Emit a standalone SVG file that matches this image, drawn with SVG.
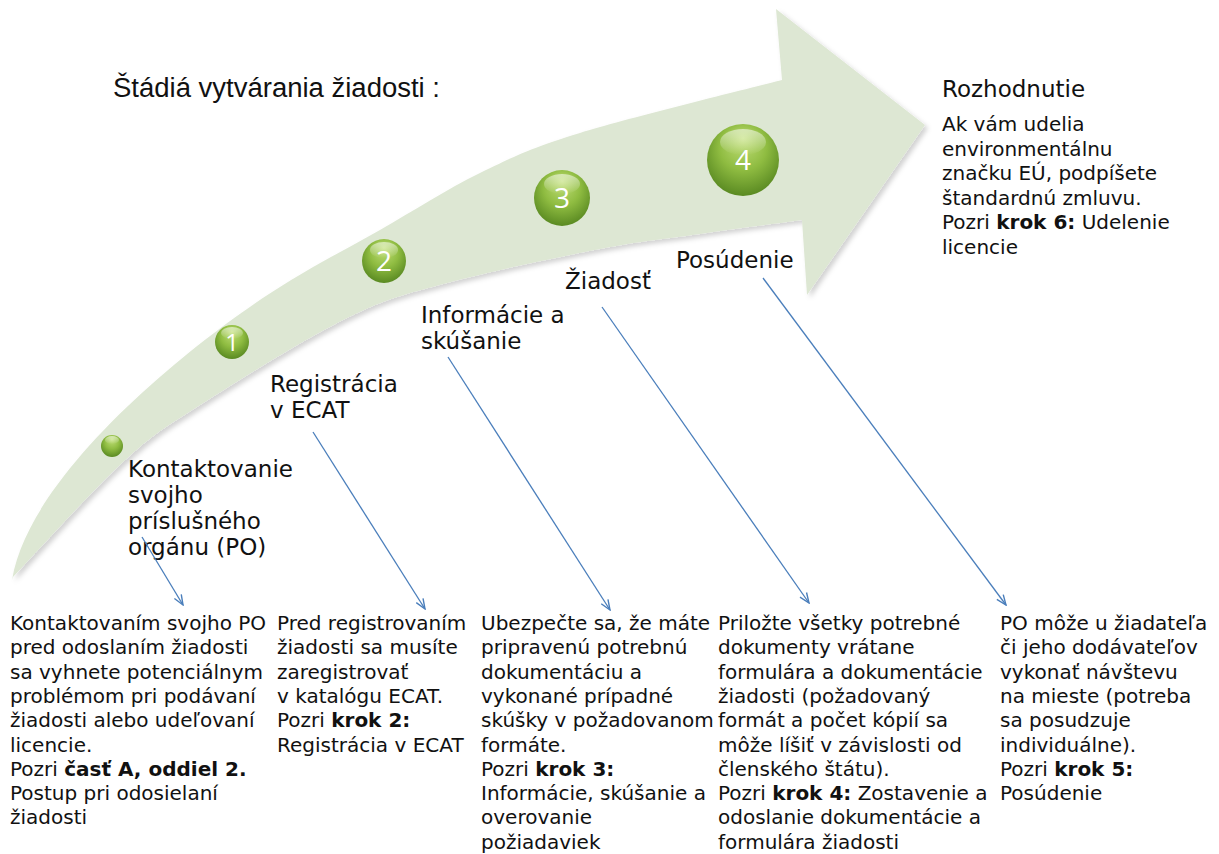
<svg xmlns="http://www.w3.org/2000/svg" width="1219" height="854" viewBox="0 0 1219 854">
<style>
.t{font-family:"DejaVu Sans","Liberation Sans",sans-serif;font-size:20px;fill:#111}
.l{font-family:"DejaVu Sans","Liberation Sans",sans-serif;font-size:23px;fill:#111}
.b{font-weight:bold}
.n{font-family:"Open Sans","Liberation Sans",sans-serif;fill:#fff;text-anchor:middle}
.c{stroke:#4a7ebb;stroke-width:1.3;fill:none}
</style>
<defs>
<radialGradient id="ball" cx="50%" cy="40%" r="60%" fx="50%" fy="20%">
<stop offset="0" stop-color="#c2e07a"/>
<stop offset="0.55" stop-color="#8fbc41"/>
<stop offset="1" stop-color="#5a8a22"/>
</radialGradient>
<linearGradient id="gloss" x1="0" y1="0" x2="0" y2="1">
<stop offset="0" stop-color="#fff" stop-opacity="0.55"/>
<stop offset="1" stop-color="#fff" stop-opacity="0"/>
</linearGradient>
<filter id="sh" x="-10%" y="-10%" width="130%" height="130%">
<feDropShadow dx="3" dy="3" stdDeviation="2.5" flood-color="#000" flood-opacity="0.18"/>
</filter>
<marker id="ah" viewBox="0 0 12 10" refX="11" refY="5" markerWidth="12" markerHeight="10" markerUnits="userSpaceOnUse" orient="auto">
<path d="M1,1 L11,5 L1,9" stroke="#4a7ebb" stroke-width="1.4" fill="none"/>
</marker>
</defs>

<g id="arrow">
<path filter="url(#sh)" fill="#dde7d3" d="M12,580 C30,470 200,337 280,287 C319.5,262 346.7,249 380,230 C413.3,211 446.7,189.2 480,173 C513.3,156.8 529.7,148.5 580,133 C630.3,117.5 748.3,88.8 782,80 L776,9 L925,125 L807,295 L802,220 C785,222.3 733.7,229.2 700,234 C666.3,238.8 642.2,240.8 600,249 C557.8,257.2 489.2,271.5 447,283 C404.8,294.5 388.2,297.7 347,318 C305.8,338.3 237.3,381 200,405 C162.7,429 154.2,433.3 123,462 C91.8,490.7 31.3,557.8 13,577 Z"/>
</g>

<text class="t" x="113" y="97" style="font-family:'Liberation Sans',sans-serif;font-size:27px" textLength="327" lengthAdjust="spacingAndGlyphs">Štádiá vytvárania žiadosti :</text>

<g id="ball0">
<circle cx="112" cy="446" r="11" fill="url(#ball)"/>
<ellipse cx="112" cy="440" rx="7" ry="4" fill="url(#gloss)"/>
</g>
<g id="ball1">
<circle cx="232" cy="342" r="17" fill="url(#ball)"/>
<ellipse cx="232" cy="333" rx="11" ry="6" fill="url(#gloss)"/>
<text class="n" x="232" y="351" font-size="24">1</text>
</g>
<g id="ball2">
<circle cx="384" cy="261" r="22" fill="url(#ball)"/>
<ellipse cx="384" cy="250" rx="14" ry="8" fill="url(#gloss)"/>
<text class="n" x="384" y="271" font-size="28">2</text>
</g>
<g id="ball3">
<circle cx="562" cy="198" r="28" fill="url(#ball)"/>
<ellipse cx="562" cy="184" rx="18" ry="10" fill="url(#gloss)"/>
<text class="n" x="562" y="208" font-size="28">3</text>
</g>
<g id="ball4">
<circle cx="743" cy="160" r="36" fill="url(#ball)"/>
<ellipse cx="743" cy="142" rx="23" ry="13" fill="url(#gloss)"/>
<text class="n" x="743" y="170" font-size="28">4</text>
</g>

<g id="label1">
<text class="l" x="128" y="477">Kontaktovanie</text>
<text class="l" x="128" y="503">svojho</text>
<text class="l" x="128" y="529">príslušného</text>
<text class="l" x="128" y="555">orgánu (PO)</text>
</g>
<g id="label2">
<text class="l" x="270" y="392">Registrácia</text>
<text class="l" x="270" y="418">v ECAT</text>
</g>
<g id="label3">
<text class="l" x="421" y="323">Informácie a</text>
<text class="l" x="421" y="349">skúšanie</text>
</g>
<g id="label4">
<text class="l" x="565" y="289">Žiadosť</text>
</g>
<g id="label5">
<text class="l" x="676" y="268">Posúdenie</text>
</g>
<g id="label6">
<text class="l" x="942" y="97">Rozhodnutie</text>
<text class="t" x="942" y="131">Ak vám udelia</text>
<text class="t" x="942" y="155.5">environmentálnu</text>
<text class="t" x="942" y="180">značku EÚ, podpíšete</text>
<text class="t" x="942" y="204.5">štandardnú zmluvu.</text>
<text class="t" x="942" y="229">Pozri <tspan class="b">krok 6:</tspan> Udelenie</text>
<text class="t" x="942" y="253.5">licencie</text>
</g>

<g id="connectors">
<line class="c" x1="142" y1="537" x2="183" y2="605" marker-end="url(#ah)"/>
<line class="c" x1="313" y1="432" x2="425" y2="609" marker-end="url(#ah)"/>
<line class="c" x1="448" y1="357" x2="610" y2="610" marker-end="url(#ah)"/>
<line class="c" x1="602" y1="307" x2="809" y2="603" marker-end="url(#ah)"/>
<line class="c" x1="763" y1="278" x2="1006" y2="605" marker-end="url(#ah)"/>
</g>

<g id="desc1">
<text class="t" x="10" y="630">Kontaktovaním svojho PO</text>
<text class="t" x="10" y="654.3">pred odoslaním žiadosti</text>
<text class="t" x="10" y="678.6">sa vyhnete potenciálnym</text>
<text class="t" x="10" y="702.9">problémom pri podávaní</text>
<text class="t" x="10" y="727.2">žiadosti alebo udeľovaní</text>
<text class="t" x="10" y="751.5">licencie.</text>
<text class="t" x="10" y="775.8">Pozri <tspan class="b">časť A, oddiel 2.</tspan></text>
<text class="t" x="10" y="800.1">Postup pri odosielaní</text>
<text class="t" x="10" y="824.4">žiadosti</text>
</g>
<g id="desc2">
<text class="t" x="277" y="630">Pred registrovaním</text>
<text class="t" x="277" y="654.3">žiadosti sa musíte</text>
<text class="t" x="277" y="678.6">zaregistrovať</text>
<text class="t" x="277" y="702.9">v katalógu ECAT.</text>
<text class="t" x="277" y="727.2">Pozri <tspan class="b">krok 2:</tspan></text>
<text class="t" x="277" y="751.5">Registrácia v ECAT</text>
</g>
<g id="desc3">
<text class="t" x="481" y="630">Ubezpečte sa, že máte</text>
<text class="t" x="481" y="654.3">pripravenú potrebnú</text>
<text class="t" x="481" y="678.6">dokumentáciu a</text>
<text class="t" x="481" y="702.9">vykonané prípadné</text>
<text class="t" x="481" y="727.2">skúšky v požadovanom</text>
<text class="t" x="481" y="751.5">formáte.</text>
<text class="t" x="481" y="775.8">Pozri <tspan class="b">krok 3:</tspan></text>
<text class="t" x="481" y="800.1">Informácie, skúšanie a</text>
<text class="t" x="481" y="824.4">overovanie</text>
<text class="t" x="481" y="848.7">požiadaviek</text>
</g>
<g id="desc4">
<text class="t" x="718" y="630">Priložte všetky potrebné</text>
<text class="t" x="718" y="654.3">dokumenty vrátane</text>
<text class="t" x="718" y="678.6">formulára a dokumentácie</text>
<text class="t" x="718" y="702.9">žiadosti (požadovaný</text>
<text class="t" x="718" y="727.2">formát a počet kópií sa</text>
<text class="t" x="718" y="751.5">môže líšiť v závislosti od</text>
<text class="t" x="718" y="775.8">členského štátu).</text>
<text class="t" x="718" y="800.1">Pozri <tspan class="b">krok 4:</tspan> Zostavenie a</text>
<text class="t" x="718" y="824.4">odoslanie dokumentácie a</text>
<text class="t" x="718" y="848.7">formulára žiadosti</text>
</g>
<g id="desc5">
<text class="t" x="1000" y="630">PO môže u žiadateľa</text>
<text class="t" x="1000" y="654.3">či jeho dodávateľov</text>
<text class="t" x="1000" y="678.6">vykonať návštevu</text>
<text class="t" x="1000" y="702.9">na mieste (potreba</text>
<text class="t" x="1000" y="727.2">sa posudzuje</text>
<text class="t" x="1000" y="751.5">individuálne).</text>
<text class="t" x="1000" y="775.8">Pozri <tspan class="b">krok 5:</tspan></text>
<text class="t" x="1000" y="800.1">Posúdenie</text>
</g>
</svg>
